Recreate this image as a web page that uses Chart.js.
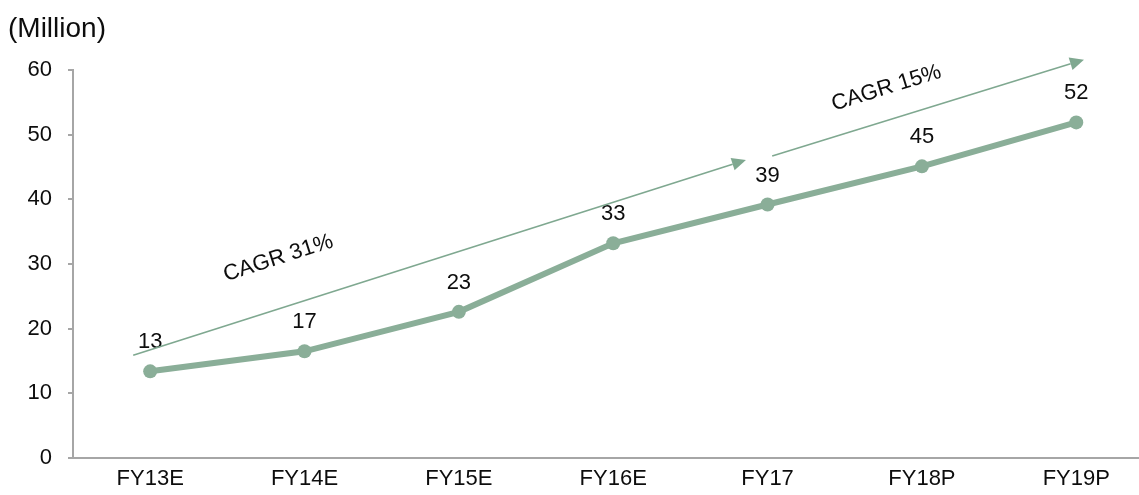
<!DOCTYPE html>
<html>
<head>
<meta charset="utf-8">
<script src="https://cdn.jsdelivr.net/npm/chart.js@4/dist/chart.umd.min.js"></script>
<style>
html,body{margin:0;padding:0;background:#fff;}
#wrap{width:1139px;height:495px;position:relative;}
</style>
</head>
<body>
<div id="wrap"><canvas id="c" width="1139" height="495"></canvas></div>
<script>
const categories = ['FY13E','FY14E','FY15E','FY16E','FY17','FY18P','FY19P'];
const values = [13.4, 16.5, 22.6, 33.2, 39.2, 45.1, 51.9];
const valueLabels = ['13','17','23','33','39','45','52'];
const yTicks = [0,10,20,30,40,50,60];
const unitLabel = '(Million)';
// CAGR arrows in data coordinates
const arrowStarts = [[-0.11, 15.9], [4.03, 46.7]];
const arrowEnds = [[3.86, 46.1], [6.05, 61.6]];
const cagrTexts = ['CAGR 31%', 'CAGR 15%'];
const cagrPos = [[0.83, 30.9], [4.77, 57.2]];

const FONT = '"Liberation Sans", Arial, sans-serif';
const LINE = '#8aae98';
const ARROW = '#7fa890';
const TXT = '#0d0d0d';

const overlay = {
  id: 'overlay',
  afterDatasetsDraw(chart) {
    const ctx = chart.ctx, xs = chart.scales.x, ys = chart.scales.y;
    ctx.save();
    ctx.fillStyle = TXT;
    ctx.font = '22px ' + FONT;
    ctx.textAlign = 'center';
    ctx.textBaseline = 'middle';
    values.forEach((v, i) => {
      ctx.fillText(valueLabels[i], xs.getPixelForValue(i), ys.getPixelForValue(v) - 29);
    });
    arrowStarts.forEach((s, i) => {
      const e = arrowEnds[i];
      const x0 = xs.getPixelForValue(s[0]), y0 = ys.getPixelForValue(s[1]);
      const x1 = xs.getPixelForValue(e[0]), y1 = ys.getPixelForValue(e[1]);
      const a = Math.atan2(y1 - y0, x1 - x0);
      const hl = 14, hw = 6.5;
      ctx.strokeStyle = ARROW; ctx.fillStyle = ARROW; ctx.lineWidth = 1.6;
      ctx.beginPath();
      ctx.moveTo(x0, y0);
      ctx.lineTo(x1 - hl * Math.cos(a), y1 - hl * Math.sin(a));
      ctx.stroke();
      ctx.beginPath();
      ctx.moveTo(x1, y1);
      ctx.lineTo(x1 - hl * Math.cos(a) + hw * Math.sin(a), y1 - hl * Math.sin(a) - hw * Math.cos(a));
      ctx.lineTo(x1 - hl * Math.cos(a) - hw * Math.sin(a), y1 - hl * Math.sin(a) + hw * Math.cos(a));
      ctx.closePath();
      ctx.fill();
      const p = cagrPos[i];
      ctx.save();
      ctx.translate(xs.getPixelForValue(p[0]), ys.getPixelForValue(p[1]));
      ctx.rotate(a);
      ctx.fillStyle = TXT;
      ctx.font = '22px ' + FONT;
      ctx.textAlign = 'center';
      ctx.textBaseline = 'middle';
      ctx.fillText(cagrTexts[i], 0, 0);
      ctx.restore();
    });
    ctx.fillStyle = TXT;
    ctx.font = '28px ' + FONT;
    ctx.textAlign = 'left';
    ctx.textBaseline = 'middle';
    ctx.fillText(unitLabel, 8, 29);
    ctx.restore();
  }
};

new Chart(document.getElementById('c'), {
  type: 'line',
  data: {
    datasets: [{
      data: values.map((v, i) => ({x: i, y: v})),
      borderColor: LINE,
      backgroundColor: LINE,
      borderWidth: 6,
      pointRadius: 7,
      pointHoverRadius: 7,
      pointBackgroundColor: LINE,
      pointBorderWidth: 0,
      tension: 0,
      clip: false
    }]
  },
  options: {
    responsive: false,
    animation: false,
    events: [],
    layout: {autoPadding: false, padding: {top: 70, left: 0, right: 1, bottom: 0}},
    plugins: {legend: {display: false}, tooltip: {enabled: false}},
    scales: {
      x: {
        type: 'linear',
        min: -0.5,
        max: 6.4,
        afterBuildTicks(scale) { scale.ticks = categories.map((c, i) => ({value: i})); },
        ticks: {
          callback: (v) => categories[v],
          color: TXT,
          font: {size: 22, family: FONT},
          padding: 8,
          maxRotation: 0,
          autoSkip: false
        },
        grid: {display: false, drawTicks: false},
        border: {display: true, color: '#a6a6a6', width: 2},
        afterFit(scale) { scale.height = 37; scale.paddingLeft = 0; scale.paddingRight = 0; }
      },
      y: {
        min: 0,
        max: 60,
        afterBuildTicks(scale) { scale.ticks = yTicks.map(v => ({value: v})); },
        ticks: {
          color: TXT,
          font: {size: 22, family: FONT},
          padding: 16
        },
        grid: {drawOnChartArea: false, drawTicks: true, tickLength: 5, color: '#a6a6a6', lineWidth: 2},
        border: {display: true, color: '#a6a6a6', width: 2},
        afterFit(scale) { scale.width = 73; }
      }
    }
  },
  plugins: [overlay]
});
</script>
</body>
</html>
